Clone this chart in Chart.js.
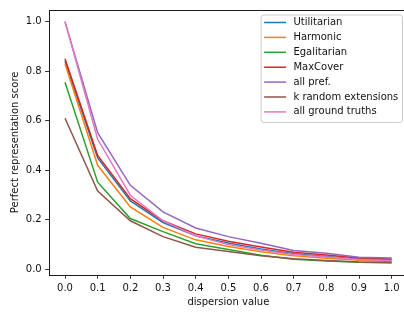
<!DOCTYPE html>
<html>
<head>
<meta charset="utf-8">
<script src="https://cdn.jsdelivr.net/npm/chart.js@4.4.1/dist/chart.umd.min.js"></script>
<style>
    html, body { margin: 0; padding: 0; background: #fff; overflow: hidden; }
    #wrap { width: 404px; height: 312px; overflow: hidden; }
    canvas { display: block; }
</style>
</head>
<body>
<div id="wrap"><canvas id="chart" width="412" height="312"></canvas></div>
<script>
    // Data
    const dispersion = [0.0, 0.1, 0.2, 0.3, 0.4, 0.5, 0.6, 0.7, 0.8, 0.9, 1.0];
    const utilitarian = [0.84, 0.45, 0.276, 0.189, 0.135, 0.106, 0.082, 0.063, 0.052, 0.042, 0.038];
    const harmonic = [0.83, 0.42, 0.252, 0.169, 0.119, 0.092, 0.071, 0.055, 0.045, 0.037, 0.032];
    const egalitarian = [0.755, 0.352, 0.205, 0.152, 0.103, 0.08, 0.057, 0.041, 0.034, 0.028, 0.025];
    const maxCover = [0.85, 0.46, 0.285, 0.196, 0.143, 0.113, 0.09, 0.069, 0.058, 0.046, 0.042];
    const allPref = [1.0, 0.552, 0.339, 0.232, 0.167, 0.132, 0.105, 0.076, 0.065, 0.049, 0.046];
    const kRandom = [0.61, 0.316, 0.196, 0.132, 0.089, 0.072, 0.055, 0.043, 0.036, 0.03, 0.028];
    const allTruths = [1.0, 0.525, 0.299, 0.196, 0.135, 0.1, 0.078, 0.06, 0.05, 0.04, 0.036];

    const seriesNames = ['Utilitarian', 'Harmonic', 'Egalitarian', 'MaxCover', 'all pref.', 'k random extensions', 'all ground truths'];
    const seriesValues = [utilitarian, harmonic, egalitarian, maxCover, allPref, kRandom, allTruths];
    const xTickValues = [0.0, 0.1, 0.2, 0.3, 0.4, 0.5, 0.6, 0.7, 0.8, 0.9, 1.0];
    const yTickValues = [0.0, 0.2, 0.4, 0.6, 0.8, 1.0];

    // matplotlib tab10
    const tab10 = ['#1f77b4', '#ff7f0e', '#2ca02c', '#d62728', '#9467bd', '#8c564b', '#e377c2'];

    const FONT = '"DejaVu Sans", sans-serif';
    Chart.defaults.font.family = FONT;
    Chart.defaults.font.size = 10;
    Chart.defaults.color = '#111';

    /**
     * Axes frame (all four spines), using the scale pixels of the axis limits
     */
    const frame = {
        id: 'frame',
        afterDraw(chart) {
            const { ctx } = chart;
            const xs = chart.scales.x;
            const ys = chart.scales.y;
            const l = Math.round(xs.getPixelForValue(xs.min));
            const r = Math.round(xs.getPixelForValue(xs.max));
            const t = Math.round(ys.getPixelForValue(ys.max));
            const b = Math.round(ys.getPixelForValue(ys.min));
            ctx.save();
            ctx.fillStyle = '#1a1a1a';
            ctx.fillRect(l, t, r - l + 1, 1);
            ctx.fillRect(l, b, r - l + 1, 1);
            ctx.fillRect(l, t, 1, b - t + 1);
            ctx.fillRect(r, t, 1, b - t + 1);
            ctx.restore();
            drawLegend(chart, r, t);
        }
    };

    /**
     * matplotlib-style legend in the upper right corner
     */
    function drawLegend(chart, areaRight, areaTop) {
        const { ctx } = chart;
        const sets = chart.data.datasets;
        ctx.save();
        ctx.font = '10px ' + FONT;
        const textW = Math.max(...sets.map(d => ctx.measureText(d.label).width));
        const right = areaRight - 5.5;
        const top = areaTop + 5;
        const left = right - (3 + 22 + 7.3 + textW + 4.2);
        const rowH = 14.9;
        const height = 107.5;

        roundRect(ctx, left, top, right - left, height, 3);
        ctx.fillStyle = 'rgba(255,255,255,0.8)';
        ctx.fill();
        ctx.strokeStyle = '#cccccc';
        ctx.lineWidth = 1;
        ctx.stroke();

        ctx.textBaseline = 'middle';
        ctx.textAlign = 'left';
        sets.forEach((d, i) => {
            const y = top + 7.5 + i * rowH;
            ctx.beginPath();
            ctx.moveTo(left + 3, y);
            ctx.lineTo(left + 25, y);
            ctx.strokeStyle = d.borderColor;
            ctx.lineWidth = 1.5;
            ctx.stroke();
            ctx.fillStyle = '#111';
            ctx.fillText(d.label, left + 32.3, y);
        });
        ctx.restore();
    }

    function roundRect(ctx, x, y, w, h, r) {
        ctx.beginPath();
        ctx.moveTo(x + r, y);
        ctx.arcTo(x + w, y, x + w, y + h, r);
        ctx.arcTo(x + w, y + h, x, y + h, r);
        ctx.arcTo(x, y + h, x, y, r);
        ctx.arcTo(x, y, x + w, y, r);
        ctx.closePath();
    }

    new Chart(document.getElementById('chart'), {
        type: 'line',
        data: {
            datasets: seriesNames.map((name, i) => ({
                label: name,
                data: dispersion.map((x, j) => ({ x: x, y: seriesValues[i][j] })),
                borderColor: tab10[i],
                backgroundColor: tab10[i],
                borderWidth: 1.5,
                pointRadius: 0,
                tension: 0,
                fill: false,
                order: seriesNames.length - i
            }))
        },
        options: {
            responsive: false,
            animation: false,
            devicePixelRatio: 1,
            layout: {
                padding: { top: 6, right: 4, left: 0, bottom: 0 }
            },
            plugins: {
                legend: { display: false },
                tooltip: { enabled: false }
            },
            scales: {
                x: {
                    type: 'linear',
                    min: -0.05,
                    max: 1.05,
                    afterBuildTicks: s => { s.ticks = xTickValues.map(v => ({ value: v })); },
                    afterFit: s => { s.height = 36.75; },
                    ticks: {
                        padding: 3.5,
                        maxRotation: 0,
                        autoSkip: false,
                        callback: v => v.toFixed(1)
                    },
                    grid: {
                        drawOnChartArea: false,
                        drawTicks: true,
                        tickLength: 3.5,
                        color: '#000',
                        lineWidth: 0.8
                    },
                    border: { display: false },
                    title: {
                        display: true,
                        text: 'dispersion value',
                        padding: { top: 0, bottom: 4 }
                    }
                },
                y: {
                    min: -0.024,
                    max: 1.049,
                    afterBuildTicks: s => { s.ticks = yTickValues.map(v => ({ value: v })); },
                    afterFit: s => { s.width = 48.67; },
                    ticks: {
                        padding: 3.5,
                        autoSkip: false,
                        callback: v => v.toFixed(1)
                    },
                    grid: {
                        drawOnChartArea: false,
                        drawTicks: true,
                        tickLength: 3.5,
                        color: '#000',
                        lineWidth: 0.8
                    },
                    border: { display: false },
                    title: {
                        display: true,
                        text: 'Perfect representation score',
                        padding: { top: 9, bottom: 0 }
                    }
                }
            }
        },
        plugins: [frame]
    });
</script>
</body>
</html>
